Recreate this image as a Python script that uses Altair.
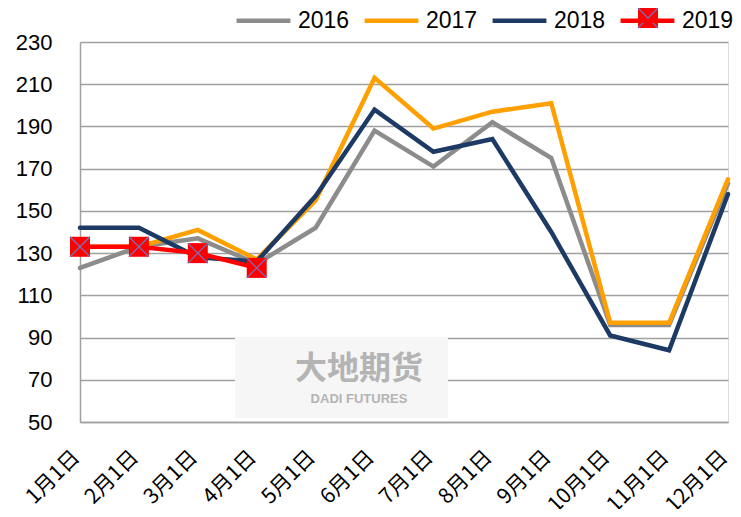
import altair as alt
import pandas as pd

months = ["1月1日", "2月1日", "3月1日", "4月1日", "5月1日", "6月1日",
          "7月1日", "8月1日", "9月1日", "10月1日", "11月1日", "12月1日"]
s2016 = [123, 133, 137, 125, 142, 188, 171, 192, 175, 96, 96, 163]
s2017 = [133, 133, 141, 127, 155, 213, 189, 197, 201, 97, 97, 165]
s2018 = [142, 142, 128, 126, 157, 198, 178, 184, 140, 91, 84, 158]
s2019 = [133, 133, 130, 123]
years = ["2016", "2017", "2018", "2019"]
colors = ["#8c8c8c", "#ffa000", "#1c3a63", "#ff0000"]
y_ticks = [50, 70, 90, 110, 130, 150, 170, 190, 210, 230]

rows = []
for yr, vals in zip(years, [s2016, s2017, s2018, s2019]):
    for m, v in zip(months, vals):
        rows.append({"month": m, "value": v, "year": yr})
df = pd.DataFrame(rows)

FONT = "Liberation Sans"
CJK = "Noto Sans CJK SC"

x_enc = alt.X("month:N", sort=months, scale=alt.Scale(type="point", padding=0),
              axis=alt.Axis(title=None, labelAngle=-45, labelAlign="right",
                            labelBaseline="middle", labelFont=CJK, labelFontSize=21,
                            labelColor="#000000", labelPadding=32, labelOffset=-4,
                            ticks=False, grid=False, domainColor="#a0a0a0",
                            domainWidth=1.5, labelOverlap=False))
y_enc = alt.Y("value:Q", scale=alt.Scale(domain=[50, 230], nice=False, zero=False),
              axis=alt.Axis(title=None, values=y_ticks, labelFont=FONT, labelFontSize=22,
                            labelColor="#000000", labelPadding=28, ticks=False,
                            grid=True, gridColor="#a0a0a0", gridWidth=1.5,
                            domainColor="#a0a0a0", domainWidth=1.5))
color_enc = alt.Color("year:N", scale=alt.Scale(domain=years, range=colors),
                      legend=alt.Legend(title=None, orient="none", direction="horizontal",
                                        legendX=154, legendY=-51, symbolType="stroke",
                                        symbolSize=2900, symbolStrokeWidth=4.5,
                                        labelFont=FONT, labelFontSize=23,
                                        labelColor="#000000", labelOffset=5,
                                        columnPadding=5, padding=0))

one = pd.DataFrame({"a": [0]})
wm_rect = alt.Chart(one).mark_rect(color="#f6f6f6").encode(
    x=alt.value(155), x2=alt.value(368), y=alt.value(295), y2=alt.value(376))
wm_text1 = alt.Chart(one).mark_text(text="大地期货", font=CJK, fontSize=32,
                                    fontWeight="bold", color="#a4a4a4", opacity=0.8).encode(
    x=alt.value(279), y=alt.value(327))
wm_text2 = alt.Chart(one).mark_text(text="DADI FUTURES", font=FONT, fontSize=13,
                                    fontWeight="bold", color="#b4b4b4").encode(
    x=alt.value(279), y=alt.value(357))

base = alt.Chart(df)
line_layers = []
for yr in years:
    line_layers.append(
        base.transform_filter(alt.datum.year == yr)
        .mark_line(strokeWidth=4.5, strokeJoin="miter", strokeCap="round")
        .encode(x=x_enc, y=y_enc, color=color_enc)
    )

sq = base.transform_filter(alt.datum.year == "2019").mark_point(
    shape="square", size=400, filled=True, color="#ff0000", opacity=1).encode(x=x_enc, y=y_enc)
xm = base.transform_filter(alt.datum.year == "2019").mark_point(
    shape="M-1,-1L1,1M-1,1L1,-1", size=400, filled=False, color="#7a6fb8",
    strokeWidth=1.3, opacity=1).encode(x=x_enc, y=y_enc)

leg_sq = alt.Chart(one).mark_point(shape="square", size=400, filled=True,
                                   color="#ff0000", opacity=1).encode(
    x=alt.value(568), y=alt.value(-24))
leg_x = alt.Chart(one).mark_point(shape="M-1,-1L1,1M-1,1L1,-1", size=400, filled=False,
                                  color="#7a6fb8", strokeWidth=1.3, opacity=1).encode(
    x=alt.value(568), y=alt.value(-24))

chart = alt.layer(wm_rect, wm_text1, wm_text2, *line_layers, sq, xm, leg_sq, leg_x).properties(
    width=648, height=380,
    autosize=alt.AutoSizeParams(type="none"),
    padding={"left": 72, "top": 34, "right": 5, "bottom": 87},
).configure_view(stroke=None).configure(background="#ffffff")

chart.save("out.html", embed_options={"renderer": "svg", "actions": False})
